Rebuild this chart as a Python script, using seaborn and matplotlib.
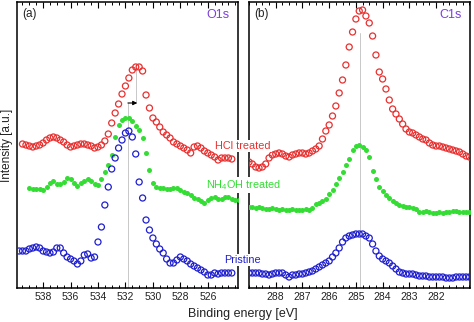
import numpy as np
import pandas as pd
import matplotlib
matplotlib.use("Agg")
import matplotlib.pyplot as plt
import seaborn as sns
from matplotlib.ticker import MultipleLocator, FixedLocator

# ---------------- data ----------------
# O1s panel, binding energy grids (eV, measurement steps)
o1s_hcl_start, o1s_step = 539.5, 0.25
o1s_nh4oh_start = 539.0
o1s_pristine_start = 539.75

o1s_hcl = [144, 143, 142, 141, 142, 143, 145, 148, 150, 151,
           150, 148, 146, 143, 141, 142, 143, 144, 144, 143,
           142, 140, 141, 143, 147, 154, 165, 175, 184, 194,
           202, 210, 218, 221, 221, 217, 193, 180, 170, 166,
           161, 156, 153, 150, 146, 144, 142, 140, 138, 135,
           141, 142, 140, 137, 135, 133, 131, 128, 130, 130,
           130, 129]
o1s_nh4oh = [100, 99, 99, 99, 98, 101, 105, 107, 104, 104,
             106, 110, 109, 105, 102, 105, 107, 109, 107, 104,
             103, 109, 116, 123, 133, 151, 163, 168, 170, 170,
             167, 162, 158, 150, 135, 118, 105, 101, 100, 100,
             99, 99, 100, 100, 98, 96, 95, 93, 90, 89,
             87, 85, 88, 90, 91, 89, 89, 91, 91, 89,
             88, 88]
o1s_pristine = [37, 37, 37, 39, 40, 41, 40, 37, 36, 35,
                36, 40, 40, 35, 31, 29, 27, 24, 27, 33,
                34, 30, 31, 46, 61, 83, 101, 119, 130, 140,
                148, 155, 157, 151, 134, 106, 90, 68, 58, 50,
                44, 39, 35, 29, 25, 25, 28, 31, 29, 27,
                24, 22, 20, 18, 16, 13, 13, 15, 14, 15,
                15, 15, 15]

# C1s panel
c1s_start, c1s_step = 289.0, 0.125
c1s_hcl = [126, 124, 121, 120, 121, 124, 130, 133, 134, 135,
           134, 132, 131, 133, 134, 135, 135, 134, 135, 137,
           139, 142, 149, 157, 163, 172, 182, 195, 208, 223,
           241, 256, 269, 277, 278, 272, 265, 252, 233, 216,
           209, 199, 188, 179, 174, 169, 164, 159, 156, 155,
           153, 151, 149, 148, 145, 143, 142, 142, 141, 140,
           139, 138, 137, 136, 134, 132, 131]
c1s_nh4oh = [81, 81, 80, 81, 80, 79, 79, 80, 79, 78,
             79, 78, 78, 79, 78, 78, 78, 79, 78, 80,
             84, 85, 87, 89, 94, 98, 104, 110, 116, 123,
             129, 138, 142, 143, 141, 138, 131, 117, 109, 101,
             97, 93, 90, 87, 85, 83, 82, 81, 81, 80,
             79, 76, 76, 77, 76, 75, 75, 76, 75, 76,
             76, 77, 77, 76, 76, 76, 76]
c1s_pristine = [15, 15, 15, 15, 14, 14, 13, 14, 15, 15,
                15, 13, 11, 13, 13, 14, 14, 15, 16, 17,
                19, 21, 23, 25, 27, 31, 35, 40, 46, 50,
                52, 53, 54, 54, 54, 52, 50, 44, 37, 32,
                29, 27, 25, 22, 19, 16, 15, 14, 14, 14,
                13, 12, 12, 12, 11, 11, 11, 11, 11, 10,
                10, 10, 11, 11, 11, 11, 11]

o1s_ticks = [538, 536, 534, 532, 530, 528, 526]
c1s_ticks = [288, 287, 286, 285, 284, 283, 282]
series_labels = ["HCl treated", "NH$_4$OH treated", "Pristine"]
panel_titles = ["O1s", "C1s"]
panel_tags = ["(a)", "(b)"]
o1s_peak_pristine, o1s_peak_hcl = 531.82, 531.24
c1s_peak = 284.85

# ---------------- style ----------------
sns.set_theme(style="white")
plt.rcParams["font.family"] = ["Liberation Sans", "DejaVu Sans"]
plt.rcParams["mathtext.fontset"] = "custom"
plt.rcParams["mathtext.rm"] = "Liberation Sans"
plt.rcParams["mathtext.it"] = "Liberation Sans:italic"

RED = "#e8302f"
GREEN = "#33dd33"
BLUE = "#1f1fd0"
PURPLE = "#7b3fdc"


def energies(start, step, n):
    return start - step * np.arange(n)


W, H = 474, 322
fig = plt.figure(figsize=(W / 100, H / 100), dpi=100)
ax1 = fig.add_axes([17 / W, (H - 288) / H, 221 / W, 286 / H])
ax2 = fig.add_axes([249 / W, (H - 288) / H, 221 / W, 286 / H])


def open_pts(ax, x, y, color):
    sns.scatterplot(x=x, y=y, ax=ax, marker="o", s=19, color=color,
                    facecolor="none", edgecolor=color, linewidth=0.9,
                    zorder=3)


def filled_pts(ax, x, y, color):
    sns.scatterplot(x=x, y=y, ax=ax, marker="o", s=13, color=color,
                    edgecolor=color, linewidth=0, zorder=3)


open_pts(ax1, energies(o1s_hcl_start, o1s_step, len(o1s_hcl)), o1s_hcl, RED)
filled_pts(ax1, energies(o1s_nh4oh_start, o1s_step, len(o1s_nh4oh)), o1s_nh4oh, GREEN)
open_pts(ax1, energies(o1s_pristine_start, o1s_step, len(o1s_pristine)), o1s_pristine, BLUE)

xc = energies(c1s_start, c1s_step, len(c1s_hcl))
open_pts(ax2, xc, c1s_hcl, RED)
filled_pts(ax2, xc, c1s_nh4oh, GREEN)
open_pts(ax2, xc, c1s_pristine, BLUE)

# guide lines
ax1.plot([o1s_peak_pristine] * 2, [0, 185], color="#c8c8c8", lw=0.7, zorder=1)
ax1.plot([o1s_peak_hcl] * 2, [185, 220], color="#c8c8c8", lw=0.7, zorder=1)
ax1.annotate("", xy=(o1s_peak_hcl - 0.1, 185), xytext=(o1s_peak_pristine, 185),
             arrowprops=dict(arrowstyle="-|>", color="black", lw=0.8,
                             mutation_scale=6, shrinkA=0, shrinkB=0), zorder=4)
ax2.plot([c1s_peak] * 2, [0, 255], color="#c8c8c8", lw=0.7, zorder=1)

for ax, xlim, ticks, mnr in [(ax1, (539.9, 523.8), o1s_ticks, 0.5),
                             (ax2, (289.0, 280.73), c1s_ticks, 0.25)]:
    ax.set_xlim(*xlim)
    ax.set_ylim(0, 286)
    ax.set_xlabel("")
    ax.set_ylabel("")
    ax.set_yticks([])
    ax.xaxis.set_major_locator(FixedLocator(ticks))
    ax.xaxis.set_minor_locator(MultipleLocator(mnr))
    ax.tick_params(axis="x", which="both", direction="in", top=True,
                   bottom=True, colors="black", labelsize=7.5, pad=3)
    ax.tick_params(axis="x", which="major", length=4, width=0.8)
    ax.tick_params(axis="x", which="minor", length=2, width=0.7)
    ax.tick_params(axis="x", labelcolor="#222222")
    for sp in ax.spines.values():
        sp.set_visible(True)
        sp.set_color("black")
        sp.set_linewidth(1.1)
    ax.grid(False)

for ax, tag, title in zip([ax1, ax2], panel_tags, panel_titles):
    ax.text(0.023, 0.958, tag, transform=ax.transAxes, ha="left",
            va="center", fontsize=8.5, color="#222222")
    ax.text(0.962, 0.955, title, transform=ax.transAxes, ha="right",
            va="center", fontsize=9, color=PURPLE)

# series labels spanning the gap between panels
label_pos = [(243, 146, RED), (243, 185, GREEN), (242, 260, BLUE)]
for lab, (px, py, col) in zip(series_labels, label_pos):
    fig.text(px / W, 1 - py / H, lab, ha="center", va="center",
             fontsize=7.8, color=col, zorder=10,
             bbox=dict(facecolor="white", edgecolor="none", pad=1.0))

fig.text(243 / W, 1 - 314 / H, "Binding energy [eV]", ha="center",
         va="center", fontsize=9, color="#222222")
fig.text(7 / W, 1 - 145 / H, "Intensity [a.u.]", ha="center", va="center",
         rotation=90, fontsize=8.5, color="#222222")

fig.savefig("out.png", dpi=100)
